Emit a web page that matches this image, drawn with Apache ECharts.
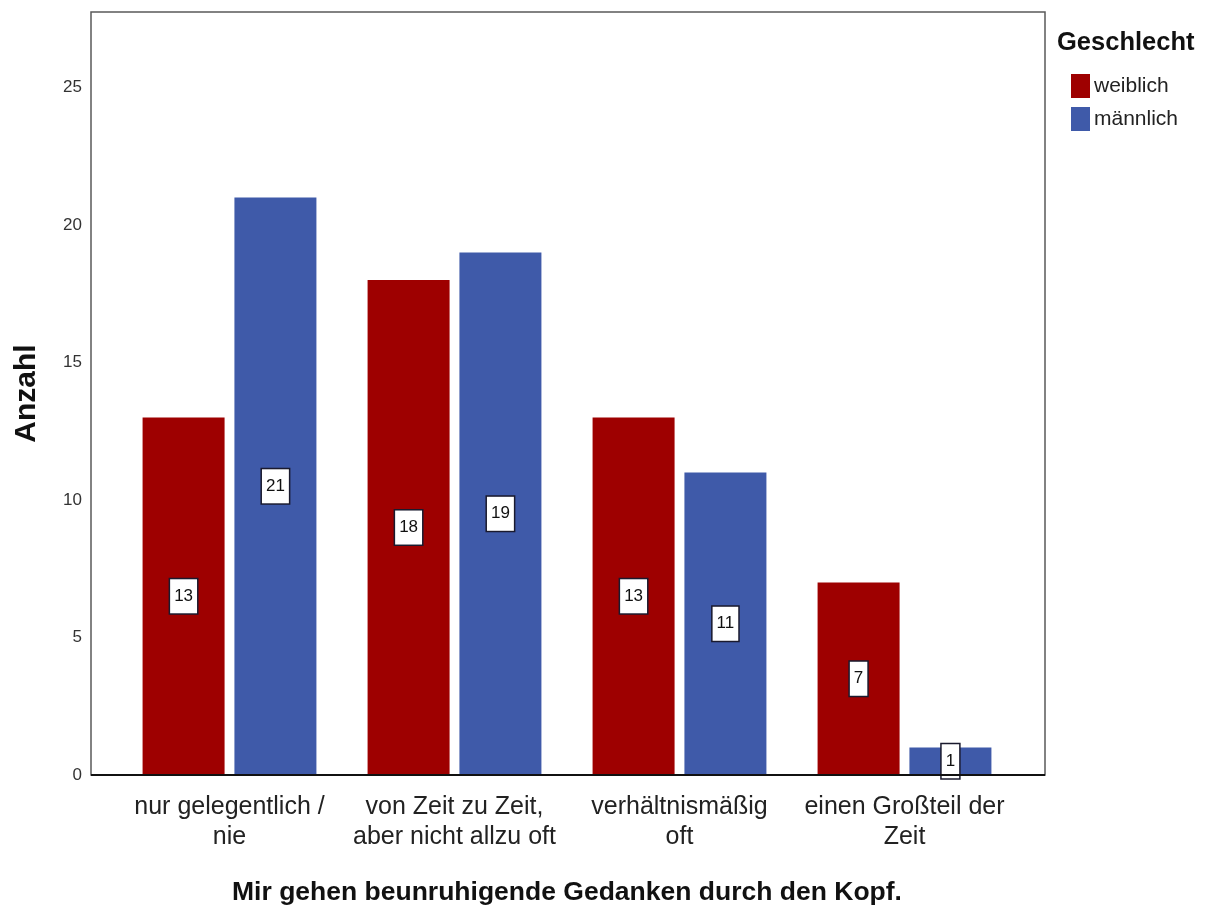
<!DOCTYPE html>
<html>
<head>
<meta charset="utf-8">
<title>Beunruhigende Gedanken nach Geschlecht</title>
<script src="https://cdn.jsdelivr.net/npm/echarts@6/dist/echarts.min.js"></script>
<style>
  html, body { margin: 0; padding: 0; background: #fff; }
  #chart { width: 1210px; height: 918px; }
</style>
</head>
<body>
<div id="chart"></div>
<script>
// Antwortkategorien und Häufigkeiten je Geschlecht
const categories = [
  'nur gelegentlich /\nnie',
  'von Zeit zu Zeit,\naber nicht allzu oft',
  'verhältnismäßig\noft',
  'einen Großteil der\nZeit'
];
const weiblich = [13, 18, 13, 7];
const maennlich = [21, 19, 11, 1];
const seriesNames = ['weiblich', 'männlich'];
const yTicks = [0, 5, 10, 15, 20, 25];

const FONT = '"Liberation Sans", Arial, sans-serif';
const RED = '#9e0000';
const BLUE = '#3f5aa9';

const chart = echarts.init(document.getElementById('chart'), null, { renderer: 'canvas' });

const valueLabel = {
  show: true,
  position: 'inside',
  color: '#111',
  fontFamily: FONT,
  fontSize: 17,
  backgroundColor: '#fff',
  borderColor: '#1a1a2e',
  borderWidth: 1.5,
  padding: [9, 4, 8, 4]
};

chart.setOption({
  animation: false,
  backgroundColor: '#fff',
  title: {
    text: 'Geschlecht',
    left: 1057,
    top: 30,
    padding: 0,
    textStyle: { fontFamily: FONT, fontSize: 25.5, fontWeight: 'bold', color: '#111' }
  },
  legend: {
    data: seriesNames,
    orient: 'vertical',
    left: 1071,
    top: 74,
    padding: 0,
    itemWidth: 19,
    itemHeight: 24,
    itemGap: 9,
    icon: 'rect',
    textStyle: { fontFamily: FONT, fontSize: 21, color: '#222', padding: [0, 0, 0, -1] }
  },
  grid: { left: 117, right: 193, top: 12, bottom: 143, containLabel: false },
  graphic: [
    {
      type: 'rect',
      shape: { x: 91, y: 12, width: 954, height: 763 },
      style: { fill: 'none', stroke: '#5a5a5a', lineWidth: 1.5 },
      z: 10,
      silent: true
    },
    {
      type: 'line',
      shape: { x1: 91, y1: 775, x2: 1045, y2: 775 },
      style: { stroke: '#111', lineWidth: 2 },
      z: 11,
      silent: true
    }
  ],
  xAxis: {
    type: 'category',
    data: categories,
    axisLine: { show: false },
    axisTick: { show: false },
    axisLabel: {
      interval: 0,
      margin: 17,
      fontFamily: FONT,
      fontSize: 25,
      lineHeight: 30,
      color: '#222',
      align: 'center'
    },
    name: 'Mir gehen beunruhigende Gedanken durch den Kopf.',
    nameLocation: 'middle',
    nameGap: 104,
    nameTextStyle: { fontFamily: FONT, fontSize: 26.5, fontWeight: 'bold', color: '#111' }
  },
  yAxis: {
    type: 'value',
    min: 0,
    max: 27.75,
    interval: 5,
    axisLine: { show: false },
    axisTick: { show: false },
    splitLine: { show: false },
    axisLabel: {
      margin: 35,
      fontFamily: FONT,
      fontSize: 17,
      color: '#333',
      formatter: v => (yTicks.indexOf(v) >= 0 ? String(v) : '')
    },
    name: 'Anzahl',
    nameLocation: 'middle',
    nameRotate: 90,
    nameGap: 75,
    nameTextStyle: { fontFamily: FONT, fontSize: 30, fontWeight: 'bold', color: '#111' }
  },
  series: [
    {
      name: seriesNames[0],
      type: 'bar',
      data: weiblich,
      barWidth: 82,
      barGap: '12%',
      itemStyle: { color: RED },
      label: valueLabel
    },
    {
      name: seriesNames[1],
      type: 'bar',
      data: maennlich,
      barWidth: 82,
      barGap: '12%',
      itemStyle: { color: BLUE },
      label: valueLabel
    }
  ]
});
</script>
</body>
</html>
